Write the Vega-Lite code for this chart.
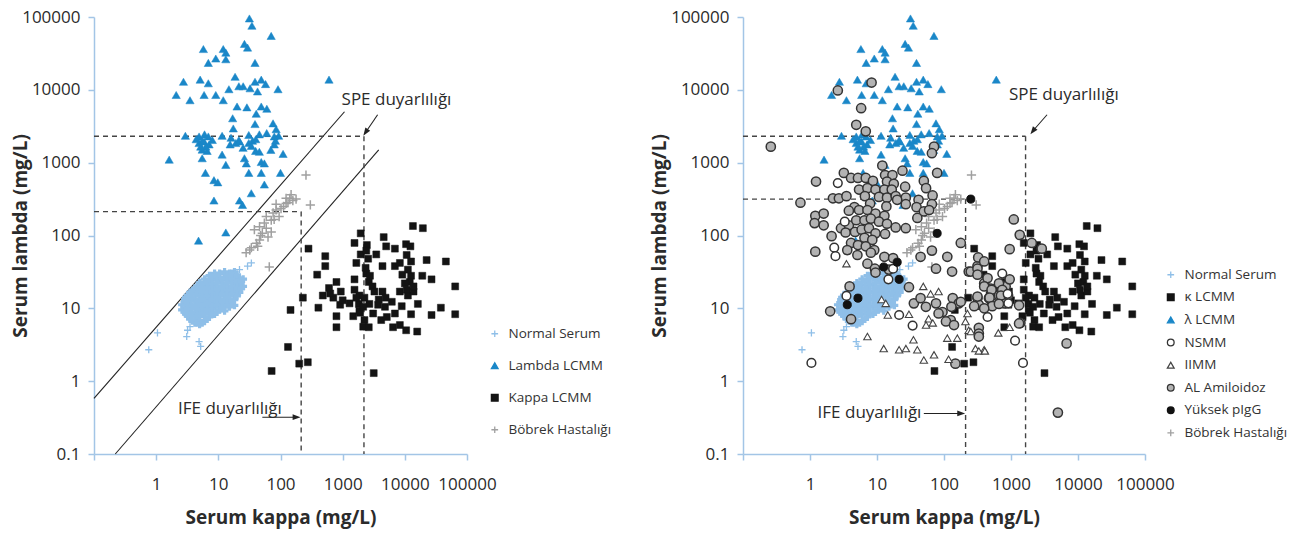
{
"$schema":"https://vega.github.io/schema/vega-lite/v6.json",
"padding":{"left":11,"top":8,"right":0,"bottom":4},
"config":{
"font":"Open Sans",
"view":{"stroke":null},
"axis":{"domainColor":"#a3c5e6","domainWidth":1.5,"tickColor":"#a3c5e6","tickWidth":1.5,"tickSize":6,"grid":false,"labelFontSize":17,"labelColor":"#2b2b2b","titleFontSize":19,"titleFontWeight":"bold","titleColor":"#2b2b2b","labelFlush":false,"labelOverlap":false,"labelBound":false},
"axisX":{"labelPadding":16,"titlePadding":16},
"axisY":{"labelPadding":8},
"legend":{"labelFontSize":13.5,"labelColor":"#333333","symbolSize":45,"symbolStrokeWidth":1.3,"symbolOpacity":1,"padding":0,"labelOffset":7}
},
"datasets":{
"nsb":[
{"s":"ns","k":2.6,"l":9.5},{"s":"ns","k":2.6,"l":11.2},
{"s":"ns","k":3.0,"l":8.3},{"s":"ns","k":3.0,"l":10},{"s":"ns","k":3.0,"l":12},{"s":"ns","k":3.0,"l":14.1},
{"s":"ns","k":3.5,"l":7.1},{"s":"ns","k":3.5,"l":8.9},{"s":"ns","k":3.5,"l":11.2},{"s":"ns","k":3.5,"l":14.1},{"s":"ns","k":3.5,"l":16.6},
{"s":"ns","k":4.2,"l":6.3},{"s":"ns","k":4.2,"l":7.9},{"s":"ns","k":4.2,"l":10},{"s":"ns","k":4.2,"l":12.6},{"s":"ns","k":4.2,"l":15.8},{"s":"ns","k":4.2,"l":19},
{"s":"ns","k":5.0,"l":6.0},{"s":"ns","k":5.0,"l":7.6},{"s":"ns","k":5.0,"l":9.5},{"s":"ns","k":5.0,"l":12},{"s":"ns","k":5.0,"l":15.1},{"s":"ns","k":5.0,"l":19},{"s":"ns","k":5.0,"l":22.4},
{"s":"ns","k":6.0,"l":6.6},{"s":"ns","k":6.0,"l":8.3},{"s":"ns","k":6.0,"l":10.5},{"s":"ns","k":6.0,"l":13.2},{"s":"ns","k":6.0,"l":16.6},{"s":"ns","k":6.0,"l":20.9},{"s":"ns","k":6.0,"l":25.1},
{"s":"ns","k":7.2,"l":7.6},{"s":"ns","k":7.2,"l":9.5},{"s":"ns","k":7.2,"l":12},{"s":"ns","k":7.2,"l":15.1},{"s":"ns","k":7.2,"l":19},{"s":"ns","k":7.2,"l":24},{"s":"ns","k":7.2,"l":28.2},
{"s":"ns","k":8.7,"l":8.3},{"s":"ns","k":8.7,"l":10.5},{"s":"ns","k":8.7,"l":13.2},{"s":"ns","k":8.7,"l":16.6},{"s":"ns","k":8.7,"l":20.9},{"s":"ns","k":8.7,"l":26.3},{"s":"ns","k":8.7,"l":30.2},
{"s":"ns","k":10.5,"l":9.5},{"s":"ns","k":10.5,"l":12},{"s":"ns","k":10.5,"l":15.1},{"s":"ns","k":10.5,"l":19},{"s":"ns","k":10.5,"l":24},{"s":"ns","k":10.5,"l":30.2},
{"s":"ns","k":12.6,"l":9.2},{"s":"ns","k":12.6,"l":10.5},{"s":"ns","k":12.6,"l":13.2},{"s":"ns","k":12.6,"l":16.6},{"s":"ns","k":12.6,"l":20.9},{"s":"ns","k":12.6,"l":26.3},{"s":"ns","k":12.6,"l":31.6},
{"s":"ns","k":15.1,"l":10.5},{"s":"ns","k":15.1,"l":12},{"s":"ns","k":15.1,"l":15.1},{"s":"ns","k":15.1,"l":19},{"s":"ns","k":15.1,"l":24},{"s":"ns","k":15.1,"l":30.2},
{"s":"ns","k":18.2,"l":11},{"s":"ns","k":18.2,"l":13.2},{"s":"ns","k":18.2,"l":16.6},{"s":"ns","k":18.2,"l":20.9},{"s":"ns","k":18.2,"l":26.3},{"s":"ns","k":18.2,"l":31.6},
{"s":"ns","k":21.9,"l":16.6},{"s":"ns","k":21.9,"l":20.9},{"s":"ns","k":21.9,"l":26.3},
{"s":"ns","k":25.1,"l":20},{"s":"ns","k":25.1,"l":25.1},
{"s":"ns","k":2.9,"l":8.9},{"s":"ns","k":2.9,"l":11.2},{"s":"ns","k":2.9,"l":13.2},
{"s":"ns","k":3.2,"l":7.9},{"s":"ns","k":3.2,"l":10},{"s":"ns","k":3.2,"l":12.6},{"s":"ns","k":3.2,"l":15.1},
{"s":"ns","k":3.8,"l":6.8},{"s":"ns","k":3.8,"l":8.5},{"s":"ns","k":3.8,"l":10.7},{"s":"ns","k":3.8,"l":13.5},{"s":"ns","k":3.8,"l":17},
{"s":"ns","k":4.6,"l":6.3},{"s":"ns","k":4.6,"l":7.9},{"s":"ns","k":4.6,"l":10},{"s":"ns","k":4.6,"l":12.6},{"s":"ns","k":4.6,"l":15.8},{"s":"ns","k":4.6,"l":20},
{"s":"ns","k":5.5,"l":6.3},{"s":"ns","k":5.5,"l":8.5},{"s":"ns","k":5.5,"l":10.7},{"s":"ns","k":5.5,"l":13.5},{"s":"ns","k":5.5,"l":17},{"s":"ns","k":5.5,"l":21.4},
{"s":"ns","k":6.6,"l":7.1},{"s":"ns","k":6.6,"l":9.3},{"s":"ns","k":6.6,"l":11.7},{"s":"ns","k":6.6,"l":14.8},{"s":"ns","k":6.6,"l":18.6},{"s":"ns","k":6.6,"l":23.4},
{"s":"ns","k":7.9,"l":8.5},{"s":"ns","k":7.9,"l":10.7},{"s":"ns","k":7.9,"l":13.5},{"s":"ns","k":7.9,"l":17},{"s":"ns","k":7.9,"l":21.4},{"s":"ns","k":7.9,"l":26.9},
{"s":"ns","k":9.5,"l":8.9},{"s":"ns","k":9.5,"l":11.2},{"s":"ns","k":9.5,"l":14.1},{"s":"ns","k":9.5,"l":17.8},{"s":"ns","k":9.5,"l":22.4},{"s":"ns","k":9.5,"l":28.2},
{"s":"ns","k":11.5,"l":10},{"s":"ns","k":11.5,"l":12.6},{"s":"ns","k":11.5,"l":15.8},{"s":"ns","k":11.5,"l":20},{"s":"ns","k":11.5,"l":25.1},
{"s":"ns","k":13.8,"l":11.2},{"s":"ns","k":13.8,"l":14.1},{"s":"ns","k":13.8,"l":17.8},{"s":"ns","k":13.8,"l":22.4},{"s":"ns","k":13.8,"l":28.2},
{"s":"ns","k":16.6,"l":12.6},{"s":"ns","k":16.6,"l":15.8},{"s":"ns","k":16.6,"l":20},{"s":"ns","k":16.6,"l":25.1},{"s":"ns","k":16.6,"l":30.2},
{"s":"ns","k":20,"l":14.8},{"s":"ns","k":20,"l":18.6},{"s":"ns","k":20,"l":23.4},{"s":"ns","k":20,"l":28.8},
{"s":"ns","k":23.4,"l":18.6},{"s":"ns","k":23.4,"l":23.4}
],
"nso":[
{"s":"ns","k":1.05,"l":4.6},{"s":"ns","k":0.76,"l":2.7},{"s":"ns","k":3.2,"l":5.0},{"s":"ns","k":3.1,"l":4.1},{"s":"ns","k":4.9,"l":3.5},{"s":"ns","k":5.2,"l":3.0},{"s":"ns","k":29.5,"l":38},{"s":"ns","k":21.9,"l":34},{"s":"ns","k":34,"l":42},{"s":"ns","k":3.5,"l":5.6}
],
"kid":[
{"s":"kid","k":28,"l":58},{"s":"kid","k":34,"l":68},{"s":"kid","k":41,"l":78},{"s":"kid","k":46,"l":87},{"s":"kid","k":38,"l":120},{"s":"kid","k":51,"l":107},{"s":"kid","k":59,"l":126},{"s":"kid","k":63,"l":95},{"s":"kid","k":55,"l":148},{"s":"kid","k":71,"l":162},{"s":"kid","k":76,"l":204},{"s":"kid","k":85,"l":224},{"s":"kid","k":95,"l":182},{"s":"kid","k":102,"l":234},{"s":"kid","k":123,"l":275},{"s":"kid","k":141,"l":324},{"s":"kid","k":178,"l":316},{"s":"kid","k":148,"l":363},{"s":"kid","k":257,"l":676},{"s":"kid","k":302,"l":263},{"s":"kid","k":66,"l":37},{"s":"kid","k":32,"l":63},{"s":"kid","k":48,"l":100},{"s":"kid","k":79,"l":166},{"s":"kid","k":112,"l":251},{"s":"kid","k":132,"l":282},{"s":"kid","k":71,"l":112},{"s":"kid","k":43,"l":71},{"s":"kid","k":158,"l":302},{"s":"kid","k":123,"l":324},{"s":"kid","k":85,"l":269},{"s":"kid","k":59,"l":182},{"s":"kid","k":46,"l":132}
],
"lam":[
{"s":"lam","k":31.6,"l":95500},{"s":"lam","k":34.7,"l":75900},{"s":"lam","k":70.8,"l":55000},{"s":"lam","k":5.75,"l":36300},{"s":"lam","k":12.0,"l":36300},{"s":"lam","k":13.2,"l":32400},{"s":"lam","k":26.3,"l":42700},{"s":"lam","k":29.5,"l":38000},{"s":"lam","k":9.1,"l":26900},{"s":"lam","k":13.2,"l":26300},
{"s":"lam","k":6.9,"l":23400},{"s":"lam","k":38.9,"l":23400},{"s":"lam","k":2.75,"l":12900},{"s":"lam","k":5.1,"l":13800},{"s":"lam","k":6.9,"l":12300},{"s":"lam","k":2.1,"l":8500},{"s":"lam","k":3.5,"l":7200},{"s":"lam","k":5.9,"l":8500},{"s":"lam","k":9.1,"l":8500},{"s":"lam","k":12.0,"l":7200},
{"s":"lam","k":14.8,"l":10200},{"s":"lam","k":18.6,"l":15100},{"s":"lam","k":21.4,"l":11200},{"s":"lam","k":25.1,"l":11200},{"s":"lam","k":32.4,"l":10500},{"s":"lam","k":38.9,"l":12900},{"s":"lam","k":42.7,"l":9500},{"s":"lam","k":49.0,"l":13800},{"s":"lam","k":57.5,"l":12000},{"s":"lam","k":91.2,"l":10200},
{"s":"lam","k":603,"l":13800},{"s":"lam","k":20.0,"l":5900},{"s":"lam","k":28.8,"l":5750},{"s":"lam","k":40.7,"l":4700},{"s":"lam","k":49.0,"l":5900},{"s":"lam","k":60.3,"l":5500},{"s":"lam","k":17.0,"l":4070},{"s":"lam","k":38.9,"l":3390},{"s":"lam","k":17.4,"l":2950},{"s":"lam","k":75.9,"l":3470},
{"s":"lam","k":85.1,"l":2880},{"s":"lam","k":2.95,"l":2340},{"s":"lam","k":4.9,"l":2290},{"s":"lam","k":6.9,"l":2290},{"s":"lam","k":11.5,"l":2340},{"s":"lam","k":21.4,"l":2040},{"s":"lam","k":30.9,"l":2400},{"s":"lam","k":45.7,"l":2450},{"s":"lam","k":79.4,"l":2290},{"s":"lam","k":93.3,"l":2340},
{"s":"lam","k":4.9,"l":1860},{"s":"lam","k":5.9,"l":1950},{"s":"lam","k":7.1,"l":1780},{"s":"lam","k":5.5,"l":1510},{"s":"lam","k":6.6,"l":1450},{"s":"lam","k":15.5,"l":1780},{"s":"lam","k":19.1,"l":1860},{"s":"lam","k":21.9,"l":1950},{"s":"lam","k":30.9,"l":1860},{"s":"lam","k":33.9,"l":1700},
{"s":"lam","k":39.8,"l":1450},{"s":"lam","k":45.7,"l":1410},{"s":"lam","k":79.4,"l":1780},{"s":"lam","k":110,"l":1320},{"s":"lam","k":1.62,"l":1100},{"s":"lam","k":5.5,"l":1150},{"s":"lam","k":11.5,"l":1290},{"s":"lam","k":26.3,"l":1150},{"s":"lam","k":28.2,"l":977},{"s":"lam","k":49.0,"l":1020},
{"s":"lam","k":55.0,"l":977},{"s":"lam","k":13.2,"l":933},{"s":"lam","k":6.2,"l":724},{"s":"lam","k":30.9,"l":724},{"s":"lam","k":49.0,"l":724},{"s":"lam","k":100,"l":724},{"s":"lam","k":8.5,"l":575},{"s":"lam","k":9.8,"l":537},{"s":"lam","k":55.0,"l":501},{"s":"lam","k":33.9,"l":380},
{"s":"lam","k":8.5,"l":302},{"s":"lam","k":21.9,"l":302},{"s":"lam","k":24.5,"l":263},{"s":"lam","k":13.2,"l":110},{"s":"lam","k":4.8,"l":85},{"s":"lam","k":5.5,"l":2000},{"s":"lam","k":6.3,"l":1660},{"s":"lam","k":5.2,"l":1660},{"s":"lam","k":35.5,"l":2000},{"s":"lam","k":83,"l":2000},
{"s":"lam","k":4.4,"l":2100},{"s":"lam","k":6.0,"l":2450},{"s":"lam","k":8.0,"l":2050},{"s":"lam","k":16.0,"l":2200},{"s":"lam","k":25.0,"l":1600},{"s":"lam","k":40.0,"l":2100},{"s":"lam","k":60.0,"l":2550},{"s":"lam","k":70.0,"l":1500}
],
"kap":[
{"s":"kap","k":13490,"l":135},{"s":"kap","k":19500,"l":126},{"s":"kap","k":1950,"l":107},{"s":"kap","k":4570,"l":95},{"s":"kap","k":1550,"l":79},{"s":"kap","k":2450,"l":74},{"s":"kap","k":282,"l":66},{"s":"kap","k":5010,"l":71},{"s":"kap","k":6920,"l":66},{"s":"kap","k":10470,"l":76},
{"s":"kap","k":12300,"l":71},{"s":"kap","k":525,"l":52},{"s":"kap","k":1950,"l":55},{"s":"kap","k":3470,"l":55},{"s":"kap","k":10700,"l":54},{"s":"kap","k":525,"l":38},{"s":"kap","k":1660,"l":42},{"s":"kap","k":4370,"l":38},{"s":"kap","k":6920,"l":38},{"s":"kap","k":8320,"l":42},
{"s":"kap","k":12600,"l":44},{"s":"kap","k":22400,"l":46},{"s":"kap","k":45700,"l":44},{"s":"kap","k":389,"l":29},{"s":"kap","k":1550,"l":25},{"s":"kap","k":2400,"l":30},{"s":"kap","k":2630,"l":23},{"s":"kap","k":3020,"l":20},{"s":"kap","k":9120,"l":29},{"s":"kap","k":12600,"l":28},
{"s":"kap","k":19100,"l":28},{"s":"kap","k":26900,"l":25},{"s":"kap","k":64600,"l":20},{"s":"kap","k":794,"l":23},{"s":"kap","k":603,"l":19},{"s":"kap","k":479,"l":15},{"s":"kap","k":933,"l":17},{"s":"kap","k":708,"l":14},{"s":"kap","k":1550,"l":18},{"s":"kap","k":1860,"l":15},
{"s":"kap","k":2240,"l":14},{"s":"kap","k":3240,"l":17},{"s":"kap","k":4370,"l":17},{"s":"kap","k":4900,"l":14},{"s":"kap","k":8320,"l":17},{"s":"kap","k":11200,"l":15},{"s":"kap","k":13800,"l":17},{"s":"kap","k":229,"l":14},{"s":"kap","k":912,"l":11.2},{"s":"kap","k":1290,"l":11.7},
{"s":"kap","k":1820,"l":11.5},{"s":"kap","k":2690,"l":11.5},{"s":"kap","k":3720,"l":11.2},{"s":"kap","k":4790,"l":10.5},{"s":"kap","k":6170,"l":12.3},{"s":"kap","k":8910,"l":10.7},{"s":"kap","k":16200,"l":11.5},{"s":"kap","k":38000,"l":10.2},{"s":"kap","k":145,"l":9.5},{"s":"kap","k":407,"l":10.2},
{"s":"kap","k":794,"l":7.8},{"s":"kap","k":1480,"l":7.8},{"s":"kap","k":1910,"l":8.7},{"s":"kap","k":2240,"l":6.9},{"s":"kap","k":3090,"l":8.5},{"s":"kap","k":4170,"l":6.9},{"s":"kap","k":6920,"l":8.5},{"s":"kap","k":12600,"l":8.3},{"s":"kap","k":26900,"l":8.1},{"s":"kap","k":64600,"l":8.3},
{"s":"kap","k":794,"l":5.5},{"s":"kap","k":2140,"l":5.6},{"s":"kap","k":2630,"l":5.5},{"s":"kap","k":6460,"l":5.5},{"s":"kap","k":8320,"l":5.9},{"s":"kap","k":10500,"l":5.0},{"s":"kap","k":15800,"l":4.8},{"s":"kap","k":132,"l":2.95},{"s":"kap","k":200,"l":1.74},{"s":"kap","k":275,"l":1.82},
{"s":"kap","k":72,"l":1.38},{"s":"kap","k":3160,"l":1.29},{"s":"kap","k":2400,"l":62},{"s":"kap","k":2570,"l":48},{"s":"kap","k":2340,"l":36},{"s":"kap","k":2750,"l":28},{"s":"kap","k":11200,"l":34},{"s":"kap","k":12000,"l":23},{"s":"kap","k":13800,"l":20},{"s":"kap","k":10000,"l":22},
{"s":"kap","k":1860,"l":9.3},{"s":"kap","k":2140,"l":10.5},{"s":"kap","k":1660,"l":14},{"s":"kap","k":1000,"l":12.9},{"s":"kap","k":3800,"l":13.2},{"s":"kap","k":631,"l":16},{"s":"kap","k":5130,"l":7.6},{"s":"kap","k":10700,"l":18}
],
"al":[
{"s":"al","k":2.6,"l":9800},{"s":"al","k":8.3,"l":12600},{"s":"al","k":5.8,"l":5600},{"s":"al","k":0.26,"l":1660},{"s":"al","k":4.9,"l":3310},{"s":"al","k":6.8,"l":2690},{"s":"al","k":71,"l":1660},{"s":"al","k":66,"l":1350},{"s":"al","k":79,"l":724},{"s":"al","k":12,"l":912},
{"s":"al","k":0.72,"l":282},{"s":"al","k":1.23,"l":550},{"s":"al","k":1100,"l":166},{"s":"al","k":1350,"l":102},{"s":"al","k":178,"l":79},{"s":"al","k":955,"l":65},{"s":"al","k":24,"l":776},{"s":"al","k":3.2,"l":724},{"s":"al","k":4.1,"l":617},{"s":"al","k":5.2,"l":617},
{"s":"al","k":6.8,"l":617},{"s":"al","k":13.2,"l":676},{"s":"al","k":17,"l":676},{"s":"al","k":14.1,"l":550},{"s":"al","k":17.8,"l":513},{"s":"al","k":8.7,"l":562},{"s":"al","k":50,"l":562},{"s":"al","k":26.3,"l":468},{"s":"al","k":54,"l":447},{"s":"al","k":5.4,"l":427},
{"s":"al","k":7.2,"l":447},{"s":"al","k":9.5,"l":427},{"s":"al","k":12.9,"l":427},{"s":"al","k":16.6,"l":427},{"s":"al","k":6.6,"l":347},{"s":"al","k":10.7,"l":339},{"s":"al","k":14.1,"l":331},{"s":"al","k":19,"l":347},{"s":"al","k":26.9,"l":331},{"s":"al","k":41.7,"l":309},
{"s":"al","k":67.6,"l":355},{"s":"al","k":2.2,"l":324},{"s":"al","k":2.7,"l":324},{"s":"al","k":3.5,"l":347},{"s":"al","k":7.9,"l":275},{"s":"al","k":13.8,"l":251},{"s":"al","k":20,"l":309},{"s":"al","k":26.9,"l":269},{"s":"al","k":38.9,"l":245},{"s":"al","k":66,"l":269},
{"s":"al","k":4.6,"l":245},{"s":"al","k":3.8,"l":219},{"s":"al","k":5.4,"l":224},{"s":"al","k":7.2,"l":224},{"s":"al","k":9.5,"l":200},{"s":"al","k":12.9,"l":186},{"s":"al","k":1.2,"l":186},{"s":"al","k":1.6,"l":200},{"s":"al","k":50,"l":214},{"s":"al","k":40,"l":174},
{"s":"al","k":60,"l":224},{"s":"al","k":1.17,"l":148},{"s":"al","k":1.6,"l":138},{"s":"al","k":2.9,"l":126},{"s":"al","k":3.8,"l":138},{"s":"al","k":4.9,"l":162},{"s":"al","k":6.5,"l":162},{"s":"al","k":8.1,"l":170},{"s":"al","k":10.7,"l":155},{"s":"al","k":14.1,"l":145},
{"s":"al","k":19,"l":129},{"s":"al","k":26.9,"l":126},{"s":"al","k":3.4,"l":110},{"s":"al","k":4.7,"l":112},{"s":"al","k":5.9,"l":120},{"s":"al","k":7.6,"l":126},{"s":"al","k":9.5,"l":107},{"s":"al","k":13.2,"l":105},{"s":"al","k":2.1,"l":98},{"s":"al","k":6.5,"l":93},
{"s":"al","k":8.5,"l":87},{"s":"al","k":4.1,"l":79},{"s":"al","k":5.2,"l":74},{"s":"al","k":6.8,"l":71},{"s":"al","k":9.1,"l":63},{"s":"al","k":1.2,"l":60},{"s":"al","k":3.6,"l":63},{"s":"al","k":5.1,"l":54},{"s":"al","k":8.1,"l":58},{"s":"al","k":12.9,"l":51},
{"s":"al","k":17.4,"l":49},{"s":"al","k":44.7,"l":51},{"s":"al","k":66,"l":62},{"s":"al","k":112,"l":51},{"s":"al","k":76,"l":35},{"s":"al","k":132,"l":32},{"s":"al","k":7.2,"l":41},{"s":"al","k":9.3,"l":35},{"s":"al","k":3.9,"l":20},{"s":"al","k":9.5,"l":31},
{"s":"al","k":15.1,"l":34},{"s":"al","k":30,"l":19.5},{"s":"al","k":234,"l":32},{"s":"al","k":316,"l":38},{"s":"al","k":324,"l":50},{"s":"al","k":398,"l":22},{"s":"al","k":4.1,"l":7.1},{"s":"al","k":2.0,"l":9.1},{"s":"al","k":35.5,"l":11.7},{"s":"al","k":44.7,"l":13.8},
{"s":"al","k":53.7,"l":10.5},{"s":"al","k":76,"l":11.7},{"s":"al","k":95,"l":8.9},{"s":"al","k":126,"l":6.9},{"s":"al","k":107,"l":6.6},{"s":"al","k":135,"l":13.8},{"s":"al","k":166,"l":11.7},{"s":"al","k":129,"l":10.5},{"s":"al","k":83,"l":8.5},{"s":"al","k":141,"l":5.9},
{"s":"al","k":316,"l":13.8},{"s":"al","k":331,"l":11.2},{"s":"al","k":331,"l":5.4},{"s":"al","k":331,"l":4.5},{"s":"al","k":468,"l":13.8},{"s":"al","k":525,"l":11.7},{"s":"al","k":661,"l":15.1},{"s":"al","k":794,"l":11.7},{"s":"al","k":501,"l":18.6},{"s":"al","k":832,"l":20},
{"s":"al","k":148,"l":1.74},{"s":"al","k":1380,"l":6.3},{"s":"al","k":6760,"l":3.3},{"s":"al","k":5010,"l":0.37},{"s":"al","k":2040,"l":79},{"s":"al","k":2880,"l":66},{"s":"al","k":398,"l":44},{"s":"al","k":251,"l":32},{"s":"al","k":316,"l":35},{"s":"al","k":316,"l":29},
{"s":"al","k":447,"l":26},{"s":"al","k":398,"l":20},{"s":"al","k":513,"l":18},{"s":"al","k":661,"l":22},{"s":"al","k":955,"l":25},{"s":"al","k":741,"l":18},{"s":"al","k":708,"l":15},{"s":"al","k":479,"l":14},{"s":"al","k":316,"l":14.5},{"s":"al","k":282,"l":10.7},
{"s":"al","k":525,"l":10.7},{"s":"al","k":661,"l":11.5},{"s":"al","k":398,"l":10},{"s":"al","k":1320,"l":11},{"s":"al","k":1320,"l":6.2},{"s":"al","k":331,"l":4.1},{"s":"al","k":178,"l":12.3}
],
"nsmm":[
{"s":"nsmm","k":2.6,"l":525},{"s":"nsmm","k":3.3,"l":155},{"s":"nsmm","k":2.3,"l":68},{"s":"nsmm","k":2.4,"l":52},{"s":"nsmm","k":17.4,"l":35},{"s":"nsmm","k":14.8,"l":25},{"s":"nsmm","k":3.5,"l":14.8},{"s":"nsmm","k":21.4,"l":8.1},{"s":"nsmm","k":34,"l":5.8},{"s":"nsmm","k":447,"l":7.6},
{"s":"nsmm","k":912,"l":15.1},{"s":"nsmm","k":1150,"l":3.6},{"s":"nsmm","k":1510,"l":1.78},{"s":"nsmm","k":1.05,"l":1.78},{"s":"nsmm","k":741,"l":30},{"s":"nsmm","k":891,"l":15.8},{"s":"nsmm","k":912,"l":11.7}
],
"iimm":[
{"s":"iimm","k":3.5,"l":41},{"s":"iimm","k":49,"l":20},{"s":"iimm","k":63,"l":15.8},{"s":"iimm","k":83,"l":17},{"s":"iimm","k":11.7,"l":13.2},{"s":"iimm","k":13.5,"l":11.7},{"s":"iimm","k":14.5,"l":8.1},{"s":"iimm","k":30,"l":8.3},{"s":"iimm","k":59,"l":7.2},{"s":"iimm","k":68,"l":6.3},
{"s":"iimm","k":54,"l":5.9},{"s":"iimm","k":7.2,"l":4.1},{"s":"iimm","k":12.6,"l":2.8},{"s":"iimm","k":21.4,"l":2.7},{"s":"iimm","k":27,"l":2.8},{"s":"iimm","k":35,"l":3.7},{"s":"iimm","k":40,"l":2.7},{"s":"iimm","k":50,"l":1.95},{"s":"iimm","k":71,"l":2.3},{"s":"iimm","k":117,"l":2.0},
{"s":"iimm","k":112,"l":3.9},{"s":"iimm","k":158,"l":3.9},{"s":"iimm","k":224,"l":8.5},{"s":"iimm","k":209,"l":6.6},{"s":"iimm","k":234,"l":5.0},{"s":"iimm","k":295,"l":2.8},{"s":"iimm","k":398,"l":2.7},{"s":"iimm","k":646,"l":4.6},{"s":"iimm","k":251,"l":4.8},{"s":"iimm","k":955,"l":5.5},
{"s":"iimm","k":331,"l":2.6},{"s":"iimm","k":407,"l":2.6}
],
"pigg":[
{"s":"pigg","k":251,"l":316},{"s":"pigg","k":79,"l":107},{"s":"pigg","k":12.6,"l":37},{"s":"pigg","k":20,"l":43},{"s":"pigg","k":21.4,"l":25},{"s":"pigg","k":5.2,"l":13.8},{"s":"pigg","k":3.6,"l":11.2}
],
"leftSolid":[
{"k":0.1,"l":0.58,"k2":1070,"l2":5000},{"k":0.22,"l":0.1,"k2":3800,"l2":1500},
{"k":3650,"l":4550,"k2":2300,"l2":2550},{"k":51,"l":0.32,"k2":180,"l2":0.32}
],
"leftDash":[
{"k":0.1,"l":2300,"k2":2200,"l2":2300},{"k":2200,"l":2300,"k2":2200,"l2":0.1},{"k":0.1,"l":213,"k2":215,"l2":213},{"k":215,"l":213,"k2":215,"l2":0.1}
],
"leftSpeHead":[{"k":2150,"l":2350}],
"leftIfeHead":[{"k":210,"l":0.32}],
"leftSpeText":[{"t":"SPE duyarlılığı","k":960,"l":7300}],
"leftIfeText":[{"t":"IFE duyarlılığı","k":105,"l":0.42}],
"rightSolid":[
{"k":3450,"l":4550,"k2":2100,"l2":2700},{"k":50,"l":0.36,"k2":180,"l2":0.36}
],
"rightDash":[
{"k":0.1,"l":2300,"k2":1650,"l2":2300},{"k":1650,"l":2300,"k2":1650,"l2":0.1},{"k":0.1,"l":316,"k2":210,"l2":316},{"k":210,"l":316,"k2":210,"l2":0.1}
],
"rightSpeHead":[{"k":1950,"l":2450}],
"rightIfeHead":[{"k":207,"l":0.36}],
"rightSpeText":[{"t":"SPE duyarlılığı","k":930,"l":8500}],
"rightIfeText":[{"t":"IFE duyarlılığı","k":46,"l":0.37}]
},
"spacing":38,
"resolve":{"scale":{"x":"independent","y":"independent","shape":"independent","fill":"independent","stroke":"independent"},"legend":{"shape":"independent","fill":"independent","stroke":"independent"}},
"hconcat":[
{
"width":373,"height":437,
"encoding":{
"x":{"field":"k","type":"quantitative","scale":{"type":"log","domain":[0.1,100000],"nice":false},"axis":{"title":"Serum kappa (mg/L)","values":[0.1,1,10,100,1000,10000,100000],"labelExpr":"datum.value < 1 ? '' : format(datum.value, 'd')"}},
"y":{"field":"l","type":"quantitative","scale":{"type":"log","domain":[0.1,100000],"nice":false},"axis":{"title":"Serum lambda (mg/L)","values":[0.1,1,10,100,1000,10000,100000],"labelExpr":"datum.value < 1 ? '0.1' : format(datum.value, 'd')","titleX":-64,"titleY":218.5}}
},
"layer":[
{"data":{"values":[{}]},"mark":{"type":"rect","fill":{"gradient":"linear","x1":0,"y1":0,"x2":0,"y2":1,"stops":[{"offset":0,"color":"#b7d0ea"},{"offset":1,"color":"#f8fbfd"}]}},"encoding":{"x":{"datum":0.1,"type":"quantitative"},"x2":{"datum":100000},"y":{"datum":0.1,"type":"quantitative"},"y2":{"datum":100000}}},
{"data":{"name":"leftSolid"},"mark":{"type":"rule","color":"#222222","strokeWidth":1.1},"encoding":{"x2":{"field":"k2"},"y2":{"field":"l2"}}},
{"data":{"name":"leftDash"},"mark":{"type":"rule","color":"#444444","strokeWidth":1.4,"strokeDash":[5,4]},"encoding":{"x2":{"field":"k2"},"y2":{"field":"l2"}}},
{"data":{"name":"leftSpeHead"},"mark":{"type":"point","shape":"M0,0L0.8,2.2L-0.8,2.2Z","filled":true,"color":"#222222","opacity":1,"size":52,"angle":214}},
{"data":{"name":"leftIfeHead"},"mark":{"type":"point","shape":"M0,0L0.8,2.2L-0.8,2.2Z","filled":true,"color":"#222222","opacity":1,"size":52,"angle":90}},
{"data":{"name":"leftSpeText"},"mark":{"type":"text","align":"left","baseline":"middle","fontSize":17,"color":"#2b2b2b"},"encoding":{"text":{"field":"t"}}},
{"data":{"name":"leftIfeText"},"mark":{"type":"text","align":"right","baseline":"middle","fontSize":17,"color":"#2b2b2b"},"encoding":{"text":{"field":"t"}}},
{
"encoding":{
"shape":{"field":"s","type":"nominal","scale":{"domain":["ns","lam","kap","kid"],"range":["M-1,0L1,0M0,-1L0,1","triangle-up","square","M-1,0L1,0M0,-1L0,1"]},"legend":{"title":null,"orient":"none","legendX":394,"legendY":310,"rowPadding":17,"labelExpr":"datum.label == 'ns' ? 'Normal Serum' : datum.label == 'lam' ? 'Lambda LCMM' : datum.label == 'kap' ? 'Kappa LCMM' : 'Böbrek Hastalığı'"}},
"fill":{"field":"s","type":"nominal","scale":{"domain":["ns","lam","kap","kid"],"range":["#8fbfe8","#1a87c8","#141414","#a0a0a0"]},"legend":{"title":null,"orient":"none","legendX":394,"legendY":310,"rowPadding":17,"labelExpr":"datum.label == 'ns' ? 'Normal Serum' : datum.label == 'lam' ? 'Lambda LCMM' : datum.label == 'kap' ? 'Kappa LCMM' : 'Böbrek Hastalığı'"}},
"stroke":{"field":"s","type":"nominal","scale":{"domain":["ns","lam","kap","kid"],"range":["#8fbfe8","#1a87c8","#141414","#a0a0a0"]},"legend":{"title":null,"orient":"none","legendX":394,"legendY":310,"rowPadding":17,"labelExpr":"datum.label == 'ns' ? 'Normal Serum' : datum.label == 'lam' ? 'Lambda LCMM' : datum.label == 'kap' ? 'Kappa LCMM' : 'Böbrek Hastalığı'"}}
},
"layer":[
{"data":{"name":"nsb"},"mark":{"type":"point","filled":true,"opacity":1,"size":60,"strokeWidth":3.2}},
{"data":{"name":"nso"},"mark":{"type":"point","filled":true,"opacity":1,"size":50,"strokeWidth":1.3}},
{"data":{"name":"kid"},"mark":{"type":"point","filled":true,"opacity":1,"size":85,"strokeWidth":1.5}},
{"data":{"name":"lam"},"mark":{"type":"point","filled":true,"opacity":1,"size":68,"strokeWidth":0.5}},
{"data":{"name":"kap"},"mark":{"type":"point","filled":true,"opacity":1,"size":48,"strokeWidth":0.5}}
]
}
]
},
{
"width":402,"height":437,
"encoding":{
"x":{"field":"k","type":"quantitative","scale":{"type":"log","domain":[0.1,100000],"nice":false},"axis":{"title":"Serum kappa (mg/L)","values":[0.1,1,10,100,1000,10000,100000],"labelExpr":"datum.value < 1 ? '' : format(datum.value, 'd')"}},
"y":{"field":"l","type":"quantitative","scale":{"type":"log","domain":[0.1,100000],"nice":false},"axis":{"title":"Serum lambda (mg/L)","values":[0.1,1,10,100,1000,10000,100000],"labelExpr":"datum.value < 1 ? '0.1' : format(datum.value, 'd')","titleX":-74,"titleY":218.5}}
},
"layer":[
{"data":{"values":[{}]},"mark":{"type":"rect","fill":{"gradient":"linear","x1":0,"y1":0,"x2":0,"y2":1,"stops":[{"offset":0,"color":"#b7d0ea"},{"offset":1,"color":"#f8fbfd"}]}},"encoding":{"x":{"datum":0.1,"type":"quantitative"},"x2":{"datum":100000},"y":{"datum":0.1,"type":"quantitative"},"y2":{"datum":100000}}},
{"data":{"name":"rightSolid"},"mark":{"type":"rule","color":"#222222","strokeWidth":1.1},"encoding":{"x2":{"field":"k2"},"y2":{"field":"l2"}}},
{"data":{"name":"rightDash"},"mark":{"type":"rule","color":"#444444","strokeWidth":1.4,"strokeDash":[5,4]},"encoding":{"x2":{"field":"k2"},"y2":{"field":"l2"}}},
{"data":{"name":"rightSpeHead"},"mark":{"type":"point","shape":"M0,0L0.8,2.2L-0.8,2.2Z","filled":true,"color":"#222222","opacity":1,"size":52,"angle":217}},
{"data":{"name":"rightIfeHead"},"mark":{"type":"point","shape":"M0,0L0.8,2.2L-0.8,2.2Z","filled":true,"color":"#222222","opacity":1,"size":52,"angle":90}},
{"data":{"name":"rightSpeText"},"mark":{"type":"text","align":"left","baseline":"middle","fontSize":17,"color":"#2b2b2b"},"encoding":{"text":{"field":"t"}}},
{"data":{"name":"rightIfeText"},"mark":{"type":"text","align":"right","baseline":"middle","fontSize":17,"color":"#2b2b2b"},"encoding":{"text":{"field":"t"}}},
{
"encoding":{
"shape":{"field":"s","type":"nominal","scale":{"domain":["ns","kap","lam","nsmm","iimm","al","pigg","kid"],"range":["M-1,0L1,0M0,-1L0,1","square","triangle-up","circle","triangle-up","circle","circle","M-1,0L1,0M0,-1L0,1"]},"legend":{"title":null,"orient":"none","legendX":421,"legendY":251,"rowPadding":7.6,"labelExpr":"datum.label == 'ns' ? 'Normal Serum' : datum.label == 'kap' ? 'κ LCMM' : datum.label == 'lam' ? 'λ LCMM' : datum.label == 'nsmm' ? 'NSMM' : datum.label == 'iimm' ? 'IIMM' : datum.label == 'al' ? 'AL Amiloidoz' : datum.label == 'pigg' ? 'Yüksek pIgG' : 'Böbrek Hastalığı'"}},
"fill":{"field":"s","type":"nominal","scale":{"domain":["ns","kap","lam","nsmm","iimm","al","pigg","kid"],"range":["#8fbfe8","#141414","#1a87c8","#ffffff","#ffffff","#b3b3b3","#111111","#a0a0a0"]},"legend":{"title":null,"orient":"none","legendX":421,"legendY":251,"rowPadding":7.6,"labelExpr":"datum.label == 'ns' ? 'Normal Serum' : datum.label == 'kap' ? 'κ LCMM' : datum.label == 'lam' ? 'λ LCMM' : datum.label == 'nsmm' ? 'NSMM' : datum.label == 'iimm' ? 'IIMM' : datum.label == 'al' ? 'AL Amiloidoz' : datum.label == 'pigg' ? 'Yüksek pIgG' : 'Böbrek Hastalığı'"}},
"stroke":{"field":"s","type":"nominal","scale":{"domain":["ns","kap","lam","nsmm","iimm","al","pigg","kid"],"range":["#8fbfe8","#141414","#1a87c8","#333333","#444444","#333333","#111111","#a0a0a0"]},"legend":{"title":null,"orient":"none","legendX":421,"legendY":251,"rowPadding":7.6,"labelExpr":"datum.label == 'ns' ? 'Normal Serum' : datum.label == 'kap' ? 'κ LCMM' : datum.label == 'lam' ? 'λ LCMM' : datum.label == 'nsmm' ? 'NSMM' : datum.label == 'iimm' ? 'IIMM' : datum.label == 'al' ? 'AL Amiloidoz' : datum.label == 'pigg' ? 'Yüksek pIgG' : 'Böbrek Hastalığı'"}}
},
"layer":[
{"data":{"name":"nsb"},"mark":{"type":"point","filled":true,"opacity":1,"size":60,"strokeWidth":3.2}},
{"data":{"name":"nso"},"mark":{"type":"point","filled":true,"opacity":1,"size":50,"strokeWidth":1.3}},
{"data":{"name":"kid"},"mark":{"type":"point","filled":true,"opacity":1,"size":85,"strokeWidth":1.5}},
{"data":{"name":"lam"},"mark":{"type":"point","filled":true,"opacity":1,"size":68,"strokeWidth":0.5}},
{"data":{"name":"kap"},"mark":{"type":"point","filled":true,"opacity":1,"size":48,"strokeWidth":0.5}},
{"data":{"name":"al"},"mark":{"type":"point","filled":true,"opacity":1,"size":85,"strokeWidth":1.5}},
{"data":{"name":"nsmm"},"mark":{"type":"point","filled":true,"opacity":1,"size":75,"strokeWidth":1.5}},
{"data":{"name":"iimm"},"mark":{"type":"point","filled":true,"opacity":1,"size":55,"strokeWidth":1.1}},
{"data":{"name":"pigg"},"mark":{"type":"point","filled":true,"opacity":1,"size":65,"strokeWidth":1}}
]
}
]
}
]
}
